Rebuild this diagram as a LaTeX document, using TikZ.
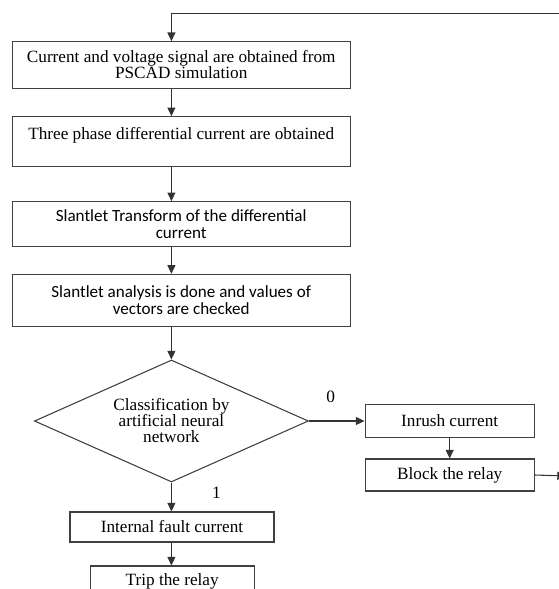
\documentclass[tikz,border=0pt]{standalone}
\usepackage{fontspec}
\setmainfont{Liberation Serif}
\newfontfamily\calibri{Carlito}
\usetikzlibrary{shapes.geometric,arrows.meta}
\tikzset{
	box/.style={draw=black!75, line width=0.8pt, align=center, inner sep=0pt, minimum width=253.3pt, font=\fontsize{12.9}{12}\selectfont},
	sbox/.style={box, font=\calibri\fontsize{12.8}{12.8}\selectfont},
	flow/.style={draw=black!80, line width=0.8pt, ->, >={Triangle[length=6.5pt,width=6pt]}},
	lbl/.style={inner sep=0pt, font=\fontsize{13}{13}\selectfont}
}
\begin{document}
\begin{tikzpicture}[x=0.75pt, y=-0.75pt]
	\useasboundingbox (0,0) rectangle (559,589);
	\clip (0,0) rectangle (559,589);
	% main column
	\node[box, minimum height=35pt] (box1) at (181.2,65) {Current and voltage signal are obtained from\\PSCAD simulation};
	\node[box, minimum height=37.5pt] (box2) at (181.2,141.7) {Three phase differential current are obtained\\ \mbox{}};
	\node[sbox, minimum height=33.75pt] (box3) at (181.2,224.2) {Slantlet Transform of the differential\\current};
	\node[sbox, minimum height=38.8pt] (box4) at (181.2,300.2) {Slantlet analysis is done and values of\\vectors are checked};
	% decision
	\node[diamond, aspect=2.25, draw=black!75, line width=0.8pt, minimum width=205.5pt, minimum height=91.5pt, inner sep=0pt, align=center, font=\fontsize{12.9}{12}\selectfont] (cls) at (171.4,421) {Classification by\\artificial neural\\network};
	% outcomes
	\node[box, minimum width=127pt, minimum height=24.75pt] (inrush) at (449.7,420.8) {Inrush current};
	\node[box, minimum width=127pt, minimum height=24pt] (block) at (449.7,475) {Block the relay};
	\node[box, minimum width=153pt, minimum height=22.5pt] (fault) at (172,527) {Internal fault current};
	\node[box, minimum width=123pt, minimum height=22.5pt] (trip) at (172.2,581) {Trip the relay};
	\node[lbl] (lbl0) at (330.7,396.7) {0};
	\node[lbl] (lbl1) at (216.5,493) {1};
	% return path off the right edge
	\coordinate (back) at (566,476);
	\coordinate (top) at (566,13.3);
	\draw[flow] (block.east) -- (back);
	\draw[flow] (top) -| (box1.north -| cls);
	% arrows
	\draw[flow] (box1.south -| cls) -- (box2.north -| cls);
	\draw[flow] (box2.south -| cls) -- (box3.north -| cls);
	\draw[flow] (box3.south -| cls) -- (box4.north -| cls);
	\draw[flow] (box4.south -| cls) -- (cls.north);
	\draw[flow] (cls.east) -- (cls.east -| inrush.west);
	\draw[flow] (inrush.south) -- (block.north);
	\draw[flow] (cls.south) -- (cls.south |- fault.north);
	\draw[flow] (fault.south -| cls) -- (trip.north -| cls);
\end{tikzpicture}
\end{document}
